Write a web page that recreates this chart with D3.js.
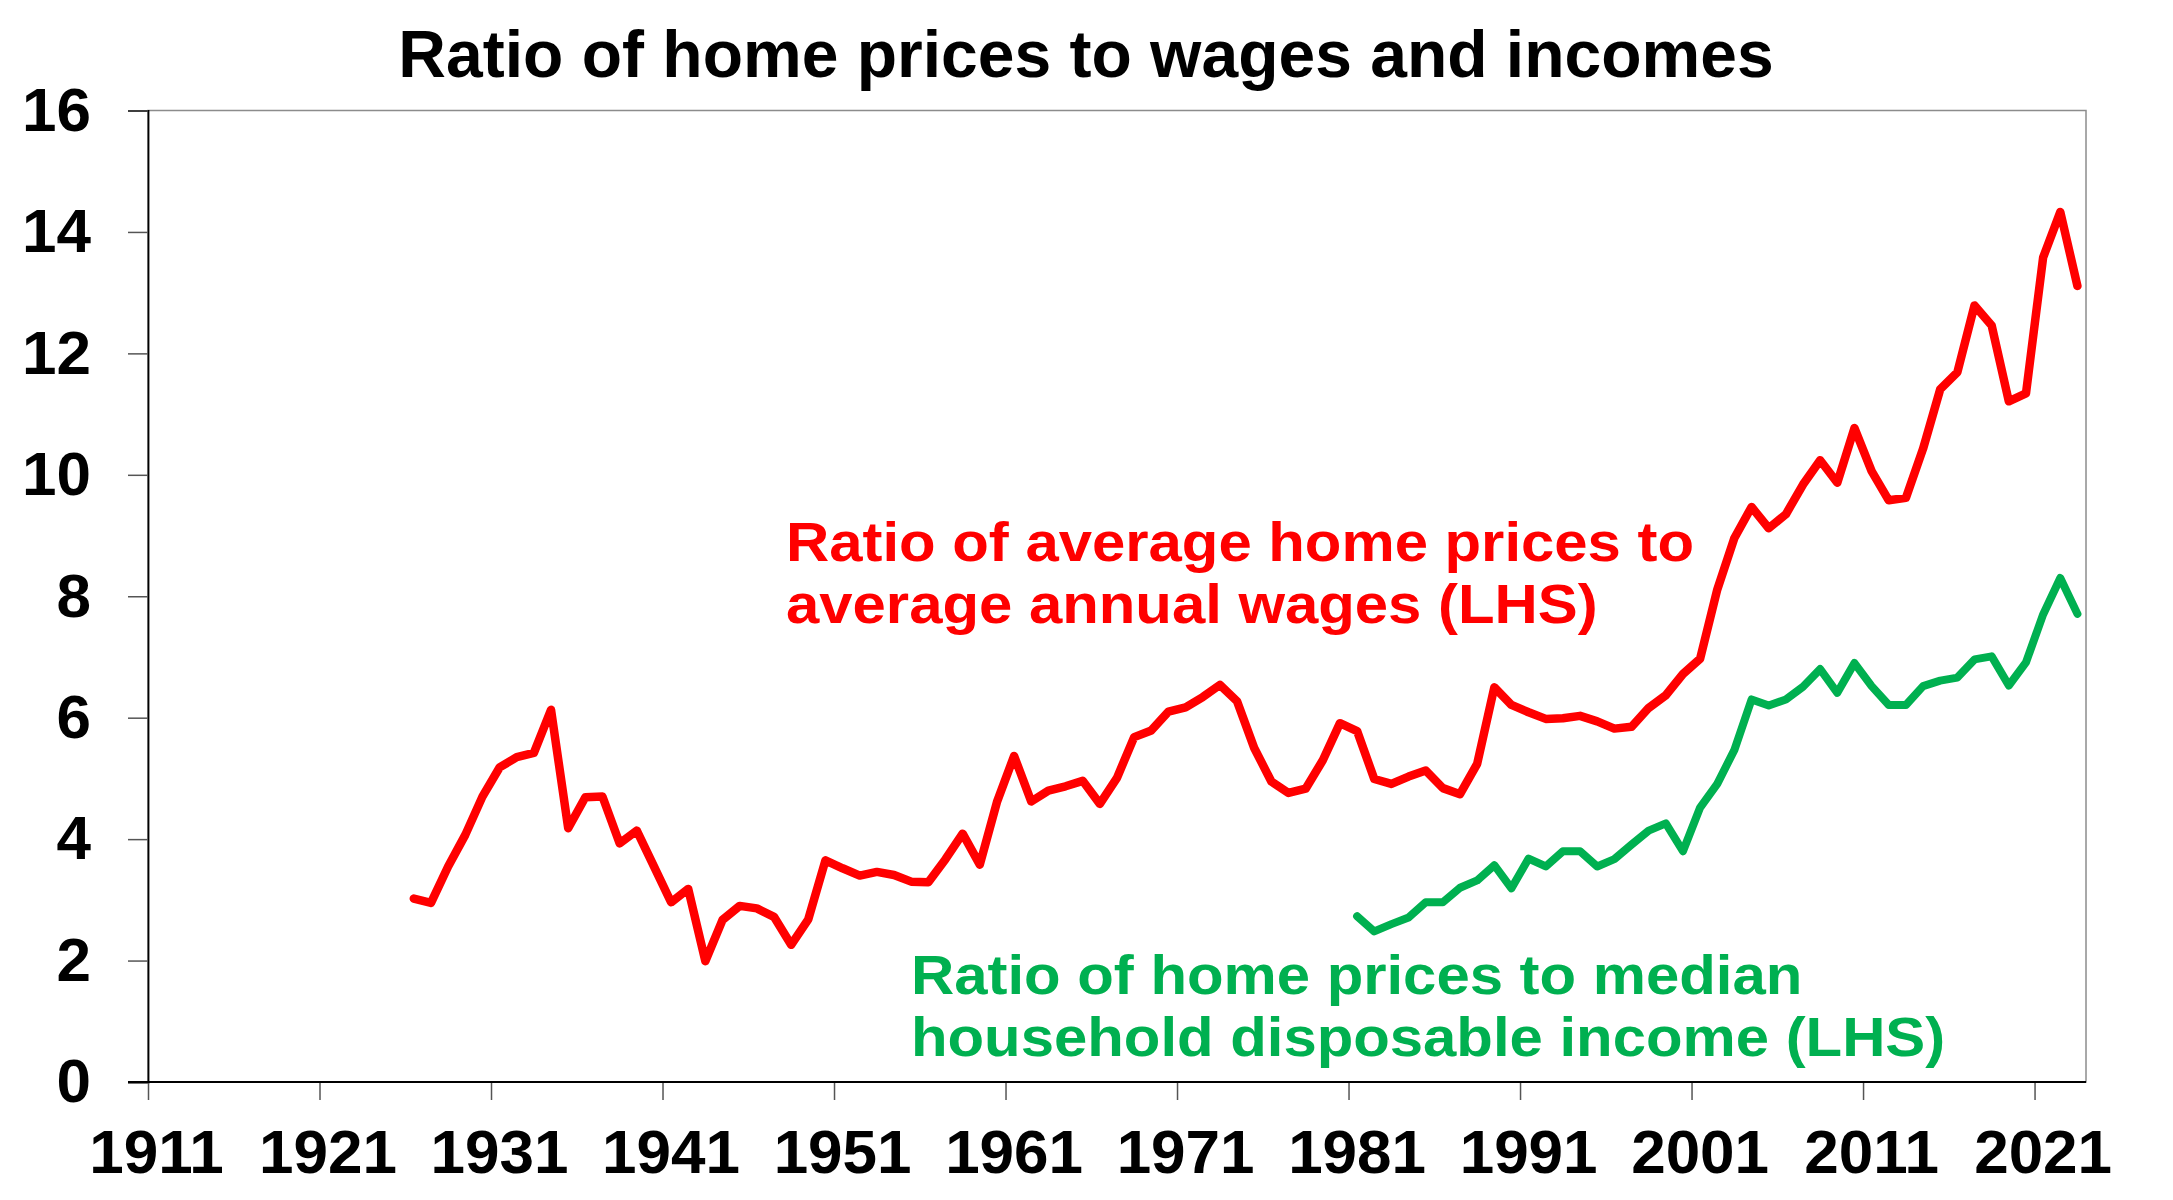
<!DOCTYPE html>
<html>
<head>
<meta charset="utf-8">
<script src="https://cdn.jsdelivr.net/npm/d3@7"></script>
<style>
  html, body { margin: 0; padding: 0; background: #fff; }
  svg { display: block; font-family: "Liberation Sans", Arial, sans-serif; }
</style>
</head>
<body>
<svg id="chart" width="2173" height="1200"></svg>
<script>
// ---- Data ----
const title = "Ratio of home prices to wages and incomes";
const firstCategory = 1911, lastCategory = 2023;
const xTickLabels = [1911, 1921, 1931, 1941, 1951, 1961, 1971, 1981, 1991, 2001, 2011, 2021];
const yTickLabels = [0, 2, 4, 6, 8, 10, 12, 14, 16];

const wageYears = d3.range(1926, 2024);
const wageRatio = [
  3.02, 2.95, 3.55, 4.07, 4.70, 5.18, 5.35, 5.42, 6.13, 4.18,
  4.69, 4.70, 3.93, 4.14, 3.55, 2.96, 3.18, 1.99, 2.67, 2.90,
  2.86, 2.72, 2.26, 2.68, 3.65, 3.52, 3.40, 3.46, 3.41, 3.30,
  3.29, 3.67, 4.09, 3.58, 4.61, 5.37, 4.62, 4.80, 4.87, 4.96,
  4.58, 5.01, 5.68, 5.79, 6.10, 6.17, 6.34, 6.54, 6.27, 5.50,
  4.95, 4.76, 4.83, 5.30, 5.91, 5.78, 4.99, 4.91, 5.03, 5.13,
  4.84, 4.74, 5.24, 6.50, 6.21, 6.09, 5.98, 5.99, 6.03, 5.94,
  5.82, 5.85, 6.16, 6.37, 6.72, 6.97, 8.11, 8.96, 9.47, 9.12,
  9.35, 9.84, 10.24, 9.87, 10.77, 10.06, 9.58, 9.62, 10.43, 11.41,
  11.69, 12.79, 12.46, 11.21, 11.34, 13.58, 14.33, 13.11
];

const incomeYears = d3.range(1981, 2024);
const incomeRatio = [
  2.73, 2.48, 2.60, 2.71, 2.96, 2.96, 3.20, 3.32, 3.57, 3.19,
  3.68, 3.55, 3.80, 3.80, 3.55, 3.67, 3.91, 4.14, 4.26, 3.80,
  4.52, 4.91, 5.47, 6.30, 6.20, 6.30, 6.51, 6.80, 6.41, 6.90,
  6.52, 6.21, 6.21, 6.52, 6.61, 6.66, 6.96, 7.01, 6.53, 6.91,
  7.70, 8.30, 7.71
];

const wageLabel = ["Ratio of average home prices to", "average annual wages (LHS)"];
const incomeLabel = ["Ratio of home prices to median", "household disposable income (LHS)"];

// ---- Layout ----
const W = 2173, H = 1200;
const plot = { left: 148, right: 2086, top: 110.5, bottom: 1082 };
const RED = "#FF0000", GREEN = "#00B050";
const FONT = '"Liberation Sans", Arial, sans-serif';

const svg = d3.select("#chart");
svg.append("rect").attr("width", W).attr("height", H).attr("fill", "#fff");

const x = d3.scaleBand()
  .domain(d3.range(firstCategory, lastCategory + 1))
  .range([plot.left, plot.right])
  .padding(0);
const bw = x.bandwidth();
const y = d3.scaleLinear().domain([0, 16]).range([plot.bottom, plot.top]);

// plot frame (top & right, grey)
svg.append("rect")
  .attr("x", plot.left).attr("y", plot.top)
  .attr("width", plot.right - plot.left).attr("height", plot.bottom - plot.top)
  .attr("fill", "none").attr("stroke", "#8c8c8c").attr("stroke-width", 1.5);

// Y axis
const yAxis = d3.axisLeft(y).tickValues(yTickLabels).tickSize(20).tickPadding(37).tickFormat(d3.format("d"));
const gy = svg.append("g").attr("transform", `translate(${plot.left},0)`).call(yAxis);
gy.select(".domain").attr("stroke", "#000").attr("stroke-width", 1.8);
gy.selectAll(".tick line").attr("stroke", "#555").attr("stroke-width", 1.5);
gy.selectAll(".tick text")
  .attr("fill", "#000").attr("font-size", 62).attr("font-weight", "bold")
  .attr("font-family", FONT);

// X axis (ticks on category boundaries, labels centred in the category)
const xLin = d3.scaleLinear().domain([firstCategory, lastCategory + 1]).range([plot.left, plot.right]);
const xAxis = d3.axisBottom(xLin).tickValues(xTickLabels).tickSize(18).tickPadding(0).tickFormat(d3.format("d"));
const gx = svg.append("g").attr("transform", `translate(0,${plot.bottom})`).call(xAxis);
gx.select(".domain").remove();
gx.append("line").attr("x1", plot.left - 20).attr("x2", plot.right).attr("y1", 0).attr("y2", 0)
  .attr("stroke", "#000").attr("stroke-width", 1.8);
gx.selectAll(".tick line").attr("stroke", "#555").attr("stroke-width", 1.5);
gx.selectAll(".tick text")
  .attr("fill", "#000").attr("font-size", 62).attr("font-weight", "bold")
  .attr("font-family", FONT)
  .attr("x", bw / 2 - 0.5).attr("y", 91).attr("dy", 0);

// Lines
const line = d3.line().x(d => x(d[0]) + bw / 2).y(d => y(d[1]));
svg.append("path")
  .datum(wageYears.map((yr, i) => [yr, wageRatio[i]]))
  .attr("d", line).attr("fill", "none").attr("stroke", RED)
  .attr("stroke-width", 8.5).attr("stroke-linejoin", "round").attr("stroke-linecap", "round");
svg.append("path")
  .datum(incomeYears.map((yr, i) => [yr, incomeRatio[i]]))
  .attr("d", line).attr("fill", "none").attr("stroke", GREEN)
  .attr("stroke-width", 8).attr("stroke-linejoin", "round").attr("stroke-linecap", "round");

// Title
svg.append("text").attr("x", 1086).attr("y", 77).attr("text-anchor", "middle")
  .attr("font-size", 66).attr("font-weight", "bold").attr("fill", "#000").text(title);

// Annotations (text in the original is slightly wide, so stretch horizontally)
function annotate(lines, x0, y0, color) {
  const g = svg.append("g").attr("transform", `translate(${x0},${y0}) scale(1.069,1)`);
  const t = g.append("text").attr("fill", color).attr("font-size", 56).attr("font-weight", "bold");
  lines.forEach((s, i) => {
    t.append("tspan").attr("x", 0).attr("y", i * 62).text(s);
  });
}
annotate(wageLabel, 786, 561, RED);
annotate(incomeLabel, 911, 994, GREEN);
</script>
</body>
</html>
